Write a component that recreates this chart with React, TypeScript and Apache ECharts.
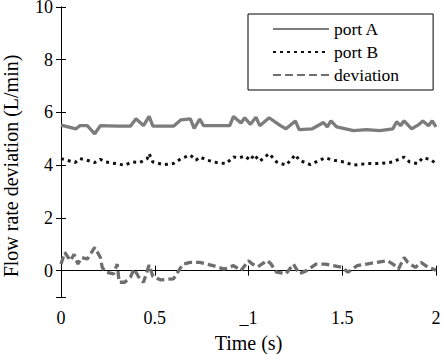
import React, { useEffect, useRef } from "react";
import * as echarts from "echarts";

const xTickLabels: Record<string, string> = { "0": "0", "0.5": "0.5", "1": "_1", "1.5": "1.5", "2": "2" };

const timeA = [0, 0.08, 0.1, 0.14, 0.18, 0.21, 0.3, 0.37, 0.4, 0.44, 0.47, 0.49, 0.6, 0.64, 0.69, 0.71, 0.74, 0.76, 0.9, 0.92, 0.96, 0.98, 1.01, 1.04, 1.06, 1.11, 1.17, 1.2, 1.25, 1.27, 1.34, 1.4, 1.42, 1.44, 1.47, 1.56, 1.63, 1.7, 1.77, 1.79, 1.81, 1.83, 1.87, 1.91, 1.93, 1.96, 1.98, 2.0];
const portA = [5.52, 5.38, 5.5, 5.5, 5.19, 5.5, 5.48, 5.48, 5.76, 5.5, 5.85, 5.48, 5.48, 5.72, 5.76, 5.4, 5.75, 5.5, 5.5, 5.85, 5.6, 5.8, 5.55, 5.82, 5.5, 5.8, 5.5, 5.38, 5.68, 5.35, 5.38, 5.62, 5.45, 5.68, 5.45, 5.31, 5.35, 5.31, 5.38, 5.65, 5.5, 5.68, 5.38, 5.55, 5.68, 5.5, 5.68, 5.45];

const timeB = [0, 0.03, 0.075, 0.1, 0.137, 0.18, 0.21, 0.24, 0.29, 0.34, 0.38, 0.42, 0.46, 0.47, 0.49, 0.55, 0.6, 0.64, 0.69, 0.72, 0.74, 0.78, 0.83, 0.88, 0.92, 0.95, 0.98, 1.01, 1.03, 1.06, 1.11, 1.15, 1.2, 1.25, 1.27, 1.33, 1.38, 1.41, 1.45, 1.51, 1.56, 1.63, 1.7, 1.77, 1.81, 1.83, 1.86, 1.9, 1.93, 1.97, 2.0];
const portB = [4.25, 4.19, 4.1, 4.25, 4.19, 4.1, 4.22, 4.12, 4.06, 4.0, 4.12, 4.1, 4.25, 4.44, 4.12, 4.02, 4.06, 4.25, 4.38, 4.19, 4.31, 4.19, 4.1, 4.06, 4.31, 4.28, 4.35, 4.19, 4.4, 4.15, 4.44, 4.12, 4.0, 4.4, 4.19, 4.02, 4.19, 4.28, 4.19, 4.12, 4.0, 4.06, 4.06, 4.12, 4.25, 4.31, 4.12, 4.06, 4.28, 4.22, 4.06];

const timeD = [0, 0.02, 0.05, 0.07, 0.09, 0.11, 0.14, 0.18, 0.21, 0.22, 0.24, 0.28, 0.3, 0.31, 0.34, 0.37, 0.39, 0.42, 0.44, 0.47, 0.49, 0.53, 0.6, 0.65, 0.69, 0.74, 0.81, 0.87, 0.92, 0.96, 1.0, 1.02, 1.05, 1.1, 1.12, 1.15, 1.2, 1.24, 1.27, 1.31, 1.36, 1.41, 1.45, 1.5, 1.53, 1.58, 1.63, 1.68, 1.74, 1.77, 1.8, 1.83, 1.85, 1.89, 1.92, 1.96, 2.0];
const deviation = [0.25, 0.69, 0.38, 0.62, 0.25, 0.5, 0.44, 0.88, 0.5, 0.12, -0.06, -0.12, 0.25, -0.44, -0.44, -0.25, 0.06, -0.31, -0.44, 0.21, -0.22, -0.35, -0.31, 0.25, 0.31, 0.31, 0.19, 0.06, 0.19, 0.0, 0.38, 0.25, 0.15, 0.38, 0.25, -0.06, -0.12, 0.25, -0.12, 0.0, 0.25, 0.25, 0.19, 0.12, -0.06, 0.19, 0.25, 0.31, 0.38, 0.25, 0.06, 0.5, 0.31, 0.12, 0.31, 0.12, 0.02];

const serif = "Liberation Serif, Times New Roman, serif";

export default function App() {
  const ref = useRef<HTMLDivElement>(null);
  useEffect(() => {
    if (!ref.current) return;
    const chart = echarts.init(ref.current, undefined, { renderer: "svg" });
    const pair = (t: number[], v: number[]) => t.map((x, i) => [x, v[i]]);
    const axisLine = { show: true, lineStyle: { color: "#000", width: 1 } };
    const tick = { show: true, inside: true, length: 5, lineStyle: { color: "#000" } };
    chart.setOption({
      animation: false,
      backgroundColor: "#fff",
      textStyle: { fontFamily: serif },
      grid: { left: 61, right: 7, top: 7, bottom: 57, containLabel: false, outerBoundsMode: "none" },
      legend: {
        left: 248,
        top: 14,
        orient: "vertical",
        padding: [6, 34, 6, 24],
        itemGap: 5,
        itemWidth: 56,
        itemHeight: 14,
        borderColor: "#000",
        borderWidth: 1,
        backgroundColor: "#fff",
        itemStyle: { color: "rgba(0,0,0,0)", borderColor: "rgba(0,0,0,0)", borderWidth: 0 },
        textStyle: { fontFamily: serif, fontSize: 17.5, color: "#000" },
        data: ["port A", "port B", "deviation"],
      },
      xAxis: [
        {
          type: "value",
          min: 0,
          max: 2,
          interval: 0.5,
          position: "bottom",
          axisLine,
          axisTick: tick,
          splitLine: { show: false },
          axisLabel: {
            color: "#000",
            fontFamily: serif,
            fontSize: 18,
            margin: 12,
            formatter: (v: number) => xTickLabels[String(v)] ?? String(v),
          },
          name: "Time (s)",
          nameLocation: "middle",
          nameGap: 36,
          nameTextStyle: { color: "#000", fontFamily: serif, fontSize: 20 },
        },
        {
          type: "value",
          min: 0,
          max: 2,
          interval: 0.5,
          position: "top",
          axisLine,
          axisTick: tick,
          axisLabel: { show: false },
          splitLine: { show: false },
        },
      ],
      yAxis: [
        {
          type: "value",
          min: -1,
          max: 10,
          splitNumber: 5,
          position: "left",
          axisLine,
          axisTick: tick,
          splitLine: { show: false },
          axisLabel: {
            color: "#000",
            fontFamily: serif,
            fontSize: 18,
            lineHeight: 14,
            margin: 8,
            formatter: (v: number) => (v === -1 ? "" : String(v)),
          },
        },
        {
          type: "value",
          min: -1,
          max: 10,
          splitNumber: 5,
          position: "right",
          axisLine,
          axisTick: tick,
          axisLabel: { show: false },
          splitLine: { show: false },
        },
      ],
      graphic: [
        {
          type: "text",
          x: 11,
          y: 166,
          rotation: Math.PI / 2,
          style: {
            text: "Flow rate deviation (L/min)",
            font: `20px ${serif}`,
            fill: "#000",
            align: "center",
            verticalAlign: "middle",
          },
        },
      ],
      series: [
        {
          name: "port A",
          type: "line",
          symbol: "none",
          data: pair(timeA, portA),
          lineStyle: { color: "#7c7c7c", width: 3.3 },
          itemStyle: { color: "#7c7c7c" },
        },
        {
          name: "port B",
          type: "line",
          symbol: "none",
          data: pair(timeB, portB),
          lineStyle: { color: "#111", width: 3, type: [3, 4] },
          itemStyle: { color: "#111" },
        },
        {
          name: "deviation",
          type: "line",
          symbol: "none",
          data: pair(timeD, deviation),
          lineStyle: { color: "#6e6e6e", width: 3.3, type: [8, 4] },
          itemStyle: { color: "#6e6e6e" },
        },
      ],
    });
    return () => chart.dispose();
  }, []);
  return <div ref={ref} style={{ width: 443, height: 354, position: "absolute", left: 0, top: 0 }} />;
}
